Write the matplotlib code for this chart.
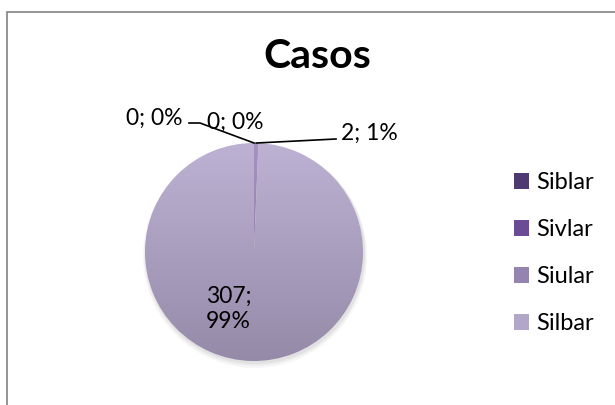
import numpy as np
import matplotlib
matplotlib.use("Agg")
import matplotlib.pyplot as plt
from matplotlib.colors import LinearSegmentedColormap
from matplotlib.patches import Patch, Circle, Rectangle

plt.rcParams['font.family'] = ['Lato', 'DejaVu Sans']

# -------------------- Data --------------------
title = "Casos"
categories = ["Siblar", "Sivlar", "Siular", "Silbar"]
values = [0, 0, 2, 307]
top_colors = ["#5c4782", "#7a5aa6", "#a592c2", "#bdb2d3"]
bottom_colors = ["#3f2d5c", "#5d4283", "#857399", "#958aa8"]
legend_colors = ["#4e3a70", "#6a4c96", "#9583b0", "#b2a7c8"]

W, H = 615, 405
cx, cy, r = 254, H - 252, 109

fig = plt.figure(figsize=(W / 100, H / 100), dpi=100)
ax = fig.add_axes([0, 0, 1, 1])

# chart area border (runs off the right and bottom)
ax.add_patch(Rectangle((6.5, -20), W + 40, H - 11.5 + 20, fill=False,
                       edgecolor="#8c8c8c", lw=1.3, zorder=0))

# soft shadow under the pie
for k, a in enumerate([0.10, 0.08, 0.06]):
    ax.add_patch(Circle((cx + 1, cy - 2 - k), r + 1 + k, color="#7f7f7f",
                        alpha=a, lw=0, zorder=1))

wedges, _ = ax.pie(values, startangle=90, counterclock=False,
                   center=(cx, cy), radius=r, frame=True,
                   wedgeprops=dict(linewidth=0, zorder=2))

# vertical gradient fill for each slice
grad = np.linspace(0, 1, 256).reshape(-1, 1)
for w, top, bot in zip(wedges, top_colors, bottom_colors):
    cmap = LinearSegmentedColormap.from_list("g", [bot, top])
    im = ax.imshow(grad, cmap=cmap, origin="lower", aspect="auto",
                   extent=(cx - r, cx + r, cy - r, cy + r), zorder=3)
    im.set_clip_path(w)
    w.set_facecolor("none")

total = sum(values)
labels = [f"{v}; {round(100 * v / total)}%" for v in values]

def edge_point(w):
    mid = np.deg2rad((w.theta1 + w.theta2) / 2)
    return cx + r * np.cos(mid), cy + r * np.sin(mid)

fs = 16.5

# outside labels with leader lines
p0 = edge_point(wedges[0])
ax.text(183, H - 118, labels[0], ha="right", va="center", fontsize=fs)
ax.plot([p0[0], 200, 189], [p0[1], H - 123, H - 123], color="black", lw=1.2, zorder=4)

ax.text(207, H - 122, labels[1], ha="left", va="center", fontsize=fs)

p2 = edge_point(wedges[2])
ax.text(341, H - 133, labels[2], ha="left", va="center", fontsize=fs)
ax.plot([p2[0], 336], [p2[1], H - 139], color="black", lw=1.2, zorder=4)

# label inside the big slice
v, p = values[3], round(100 * values[3] / total)
ax.text(206, H - 309, f"{v};\n{p}%", ha="left", va="center", fontsize=fs,
        linespacing=1.25, zorder=5)

ax.text(317, H - 57, title, ha="center", va="center", fontsize=29.5, fontweight="bold")

handles = [Patch(facecolor=c, edgecolor="none") for c in legend_colors]
ax.legend(handles, categories, loc="center left", bbox_to_anchor=(514 / W, 1 - 253 / H),
          frameon=False, fontsize=17, handlelength=0.65, handleheight=0.65,
          handletextpad=0.3, labelspacing=1.1, borderaxespad=0, borderpad=0)

ax.set_xlim(0, W)
ax.set_ylim(0, H)
ax.set_aspect("equal")
ax.axis("off")

fig.savefig("out.png", dpi=100, facecolor="white")
